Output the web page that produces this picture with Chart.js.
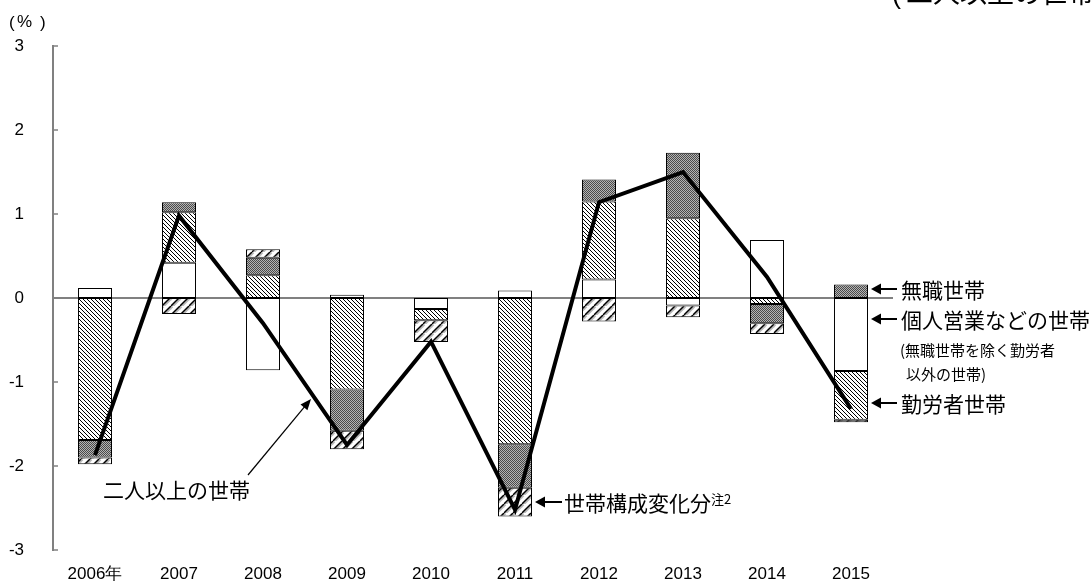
<!DOCTYPE html>
<html><head><meta charset="utf-8">
<script src="https://cdn.jsdelivr.net/npm/chart.js@4.4.1/dist/chart.umd.min.js"></script>
<style>html,body{margin:0;padding:0;background:#fff;overflow:hidden}</style>
</head><body>
<canvas id="c" width="1091" height="583"></canvas>
<script>
// ---- data ----
const years = ['2006年','2007','2008','2009','2010','2011','2012','2013','2014','2015'];
const selfEmployed = [0.12, 0.42, -0.86, 0.04, -0.13, 0.09, 0.22, -0.09, 0.69, -0.87]; // 個人営業などの世帯
const workers      = [-1.69, 0.60, 0.27, -1.09, -0.135, -1.74, 0.93, 0.95, -0.07, -0.58]; // 勤労者世帯
const unemployed   = [-0.21, 0.12, 0.21, -0.49, 0.0, -0.52, 0.26, 0.78, -0.23, 0.16];   // 無職世帯
const composition  = [-0.08, -0.19, 0.10, -0.22, -0.26, -0.34, -0.28, -0.14, -0.13, -0.03]; // 世帯構成変化分
const total        = [-1.87, 0.98, -0.30, -1.75, -0.52, -2.52, 1.14, 1.50, 0.25, -1.32]; // 二人以上の世帯
const yTickLabels  = ['-3','-2','-1','0','1','2','3'];

const JP = '"Noto Sans CJK JP", "Noto Sans", sans-serif';
const LAT = '"Liberation Sans", Arial, sans-serif';

// ---- patterns ----
function mkPattern(size, drawFn) {
  const c = document.createElement('canvas');
  c.width = size; c.height = size;
  const g = c.getContext('2d');
  drawFn(g, size);
  return document.getElementById('c').getContext('2d').createPattern(c, 'repeat');
}
const backHatch = mkPattern(4, (g, s) => {
  g.fillStyle = '#fff'; g.fillRect(0, 0, s, s);
  g.strokeStyle = '#000'; g.lineWidth = 1.0;
  for (let k = -1; k <= 1; k++) { g.beginPath(); g.moveTo(k * s, 0); g.lineTo(k * s + s, s); g.stroke(); }
});
const fwdHatch = mkPattern(9, (g, s) => {
  g.fillStyle = '#fff'; g.fillRect(0, 0, s, s);
  for (let k = -1; k <= 1; k++) {
    g.strokeStyle = '#b8b8b8'; g.lineWidth = 3.5;
    g.beginPath(); g.moveTo(k * s + 1, s); g.lineTo(k * s + s + 1, 0); g.stroke();
    g.strokeStyle = '#000'; g.lineWidth = 1.3;
    g.beginPath(); g.moveTo(k * s, s); g.lineTo(k * s + s, 0); g.stroke();
  }
});
const dots = mkPattern(2, (g) => {
  g.fillStyle = '#b4b4b4'; g.fillRect(0, 0, 2, 2);
  g.fillStyle = '#4a4a4a'; g.fillRect(0, 0, 1, 1); g.fillRect(1, 1, 1, 1);
});

const barBase = {
  type: 'bar', stack: 'a', order: 1,
  borderColor: '#000',
  borderWidth: (c) => (c.raw === 0 ? 0 : 1),
  borderSkipped: false,
  categoryPercentage: 1, barPercentage: 0.405
};

// ---- plugin: zero line, inward ticks, annotations ----
const deco = {
  id: 'deco',
  beforeDatasetsDraw(chart) {
    const { ctx, chartArea: a, scales: { y } } = chart;
    ctx.save();
    ctx.strokeStyle = '#808080'; ctx.lineWidth = 2;
    const y0 = y.getPixelForValue(0);
    ctx.beginPath(); ctx.moveTo(a.left, y0); ctx.lineTo(a.right, y0); ctx.stroke();
    ctx.lineWidth = 1.5;
    y.ticks.forEach(t => {
      const py = y.getPixelForValue(t.value);
      ctx.beginPath(); ctx.moveTo(a.left, py); ctx.lineTo(a.left + 5, py); ctx.stroke();
    });
    ctx.restore();
  },
  afterDraw(chart) {
    const { ctx } = chart;
    ctx.save();
    ctx.fillStyle = '#000'; ctx.strokeStyle = '#000';
    const arrowLeft = (xTip, y, xEnd) => {
      ctx.lineWidth = 2;
      ctx.beginPath(); ctx.moveTo(xTip + 8, y); ctx.lineTo(xEnd, y); ctx.stroke();
      ctx.beginPath(); ctx.moveTo(xTip, y); ctx.lineTo(xTip + 10, y - 5.5); ctx.lineTo(xTip + 10, y + 5.5); ctx.closePath(); ctx.fill();
    };
    ctx.textBaseline = 'middle'; ctx.textAlign = 'left';
    ctx.font = '21px ' + JP;
    arrowLeft(871, 289, 897); ctx.fillText('無職世帯', 901, 290);
    arrowLeft(871, 319, 897); ctx.fillText('個人営業などの世帯', 901, 320);
    arrowLeft(871, 403, 897); ctx.fillText('勤労者世帯', 901, 404);
    ctx.font = '15px ' + JP;
    ctx.fillText('(無職世帯を除く勤労者', 900, 350);
    ctx.fillText('以外の世帯)', 906, 374);
    ctx.font = '21px ' + JP;
    arrowLeft(535, 502, 562); ctx.fillText('世帯構成変化分', 564, 503);
    ctx.font = '13px ' + JP; ctx.fillText('注2', 711, 499);
    ctx.font = '21px ' + JP; ctx.fillText('二人以上の世帯', 103, 490);
    // arrow to the line
    const x1 = 248, y1 = 475, x2 = 311, y2 = 399;
    const ang = Math.atan2(y2 - y1, x2 - x1);
    ctx.lineWidth = 1.2;
    ctx.beginPath(); ctx.moveTo(x1, y1); ctx.lineTo(x2 - 8 * Math.cos(ang), y2 - 8 * Math.sin(ang)); ctx.stroke();
    ctx.beginPath(); ctx.moveTo(x2, y2);
    ctx.lineTo(x2 - 11 * Math.cos(ang) + 4.5 * Math.sin(ang), y2 - 11 * Math.sin(ang) - 4.5 * Math.cos(ang));
    ctx.lineTo(x2 - 11 * Math.cos(ang) - 4.5 * Math.sin(ang), y2 - 11 * Math.sin(ang) + 4.5 * Math.cos(ang));
    ctx.closePath(); ctx.fill();
    // unit label
    ctx.font = '17px ' + LAT;
    ctx.fillText('(', 9, 23); ctx.fillText('%', 17, 22); ctx.fillText(')', 40, 23);
    // title cut off at the top edge
    ctx.textBaseline = 'alphabetic';
    ctx.font = '27px ' + LAT; ctx.fillText('(', 892, 3);
    ctx.font = '27px ' + JP; ctx.fillText('二人以上の世帯）', 906, 3);
    ctx.restore();
  }
};

new Chart(document.getElementById('c'), {
  data: {
    labels: years,
    datasets: [
      { ...barBase, label: '個人営業などの世帯', data: selfEmployed, backgroundColor: '#fff' },
      { ...barBase, label: '勤労者世帯', data: workers, backgroundColor: backHatch },
      { ...barBase, label: '無職世帯', data: unemployed, backgroundColor: dots },
      { ...barBase, label: '世帯構成変化分', data: composition, backgroundColor: fwdHatch },
      { type: 'line', label: '二人以上の世帯', data: total, stack: 'line', order: 0,
        borderColor: '#000', borderWidth: 4, pointRadius: 0, tension: 0, fill: false,
        borderJoinStyle: 'miter', borderCapStyle: 'butt' }
    ]
  },
  options: {
    responsive: false, animation: false, devicePixelRatio: 1,
    layout: { padding: { top: 46, right: 198, left: 0, bottom: 0 } },
    plugins: { legend: { display: false }, tooltip: { enabled: false } },
    scales: {
      x: {
        stacked: true, offset: true,
        grid: { display: false }, border: { display: false },
        ticks: { font: { family: LAT, size: 17 }, color: '#000', padding: 6, maxRotation: 0 },
        afterFit: (s) => { s.height = 33; }
      },
      y: {
        stacked: true, min: -3, max: 3,
        grid: { display: false },
        border: { display: true, color: '#808080', width: 2 },
        ticks: { stepSize: 1, font: { family: LAT, size: 17 }, color: '#000', padding: 21,
                 callback: (v, i) => yTickLabels[i] },
        afterFit: (s) => { s.width = 53; }
      }
    }
  },
  plugins: [deco]
});
</script>
</body></html>
